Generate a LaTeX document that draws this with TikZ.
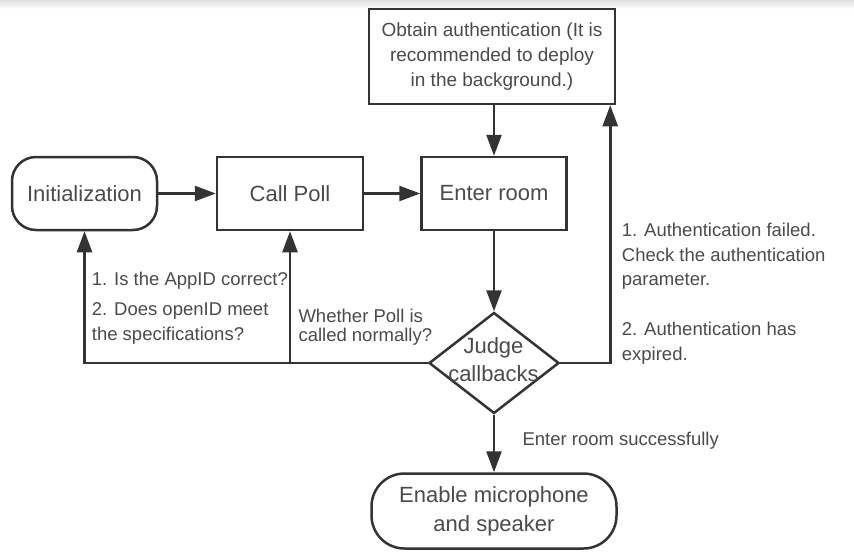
\documentclass[tikz,border=0pt]{standalone}
\usepackage{fontspec}
\setmainfont{Liberation Sans}
\usetikzlibrary{shapes.geometric,arrows.meta}
\definecolor{lc}{HTML}{333333}
\definecolor{tc}{HTML}{4A4A4A}
\begin{document}
\begin{tikzpicture}[x=1pt,y=-1pt,
  box/.style={draw=lc, line width=2.5pt, rectangle, inner sep=0pt, align=center, text=tc, font=\fontsize{22}{29}\selectfont},
  decision/.style={draw=lc, line width=2.5pt, diamond, inner sep=0pt},
  lbl/.style={anchor=base west, inner sep=0pt, text=tc, font=\fontsize{18.5}{25}\selectfont},
  arr/.style={draw=lc, line width=2.5pt, -{Triangle[length=21pt,width=15pt]}}]
\useasboundingbox (0,0) rectangle (854,557);
\shade[top color=black!12, bottom color=white] (0,0) rectangle (854,9);

\node[box, minimum width=246pt, minimum height=95pt, font=\fontsize{19}{25}\selectfont] (auth) at (492,56.5) {Obtain authentication (It is\\recommended to deploy\\in the background.)};
\node[box, rounded corners=24pt, minimum width=145pt, minimum height=73pt] (init) at (84.5,193.5) {Initialization};
\node[box, minimum width=146pt, minimum height=73pt] (poll) at (290,193.5) {Call Poll};
\node[box, minimum width=145pt, minimum height=73pt] (enter) at (494,193.5) {Enter room};
\node[decision, minimum width=130pt, minimum height=101pt] (judge) at (494,363) {};
\node[inner sep=0pt, align=center, text=tc, font=\fontsize{22}{28.7}\selectfont] (judgetext) at (493.5,359.5) {Judge\\callbacks};
\node[box, rounded corners=33pt, minimum width=245pt, minimum height=75pt] (enable) at (494,511) {Enable microphone\\and speaker};

\draw[arr] (init) -- (poll);
\draw[arr] (poll) -- (enter);
\draw[arr] (auth.south -| enter.north) -- (enter.north);
\draw[arr] (enter) -- (judge);
\draw[arr] (judge) -- (enable);
\draw[arr] (judge.west) -| (init.south);
\coordinate (jp) at (judge.west -| poll.south);
\draw[arr] (jp) -- (poll.south);
\coordinate (ak) at ([xshift=-6pt]auth.south east);
\draw[arr] (judge.east) -| (ak);

\node[lbl] (q1) at (91.7,285) {1. Is the AppID correct?};
\node[lbl] (q2) at (91.7,315) {2. Does openID meet};
\node[lbl] (q3) at (91.7,340) {the specifications?};
\node[lbl] (w1) at (298.3,322.5) {Whether Poll is};
\node[lbl] (w2) at (298.3,341.5) {called normally?};
\node[lbl] (r1) at (621.7,236.7) {1. Authentication failed.};
\node[lbl] (r2) at (621.7,261) {Check the authentication};
\node[lbl] (r3) at (621.7,285.7) {parameter.};
\node[lbl] (r4) at (621.7,335.7) {2. Authentication has};
\node[lbl] (r5) at (621.7,360.7) {expired.};
\node[lbl] (ok) at (522.3,445) {Enter room successfully};
\end{tikzpicture}
\end{document}
